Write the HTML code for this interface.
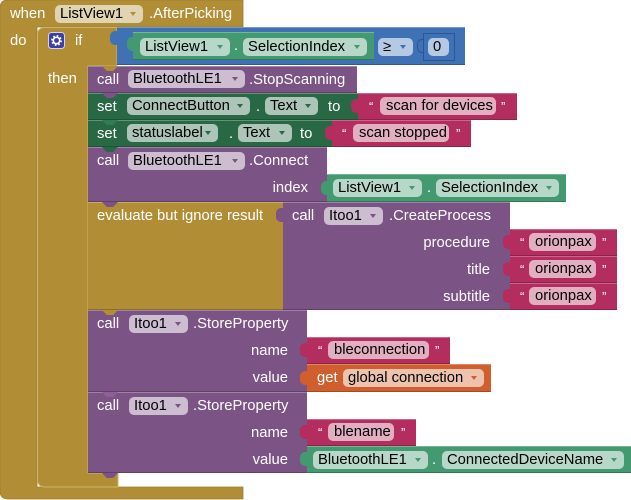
<!DOCTYPE html>
<html><head><meta charset="utf-8">
<style>
*{margin:0;padding:0;box-sizing:border-box}
body{width:631px;height:500px;background:#fff;position:relative;overflow:hidden;font-family:"Liberation Sans",Arial,sans-serif;font-size:14.8px}
.b{position:absolute;box-shadow:inset 0 1px 0 rgba(255,255,255,.28),inset 0 -1px 0 rgba(0,0,0,.22)}
.t{position:absolute;color:#fff;white-space:nowrap;line-height:18px;height:18px}
.r{text-align:right}
.d{position:absolute;height:18px;line-height:18px;border-radius:5px;background:rgba(255,255,255,.62);color:#000;padding-left:5px;white-space:nowrap}
.d i{position:absolute;right:7px;top:7px;width:0;height:0;border-left:3.5px solid transparent;border-right:3.5px solid transparent;border-top:4px solid}
.q{position:absolute;color:#fff;font-size:13px;line-height:27px;height:27px}
.tab{position:absolute;width:8px;height:14px;border-radius:5px 0 0 5px}
.n{position:absolute;width:16px;height:5px;clip-path:polygon(0 0,100% 0,70% 100%,30% 100%)}
</style></head><body>
<svg width="631" height="500" style="position:absolute;left:0;top:0">
<path d="M8,0 H243 V27 H37 V487 H243 V499 H8 Q0,499 0,491 V8 Q0,0 8,0 Z" fill="#B18E35" stroke="#9c7d2e" stroke-width="0.8"/>
<path d="M45,27.5 H117 V66 H88 V473 H118 V487 H45 Q37.5,487 37.5,479 V35 Q37.5,27.5 45,27.5 Z" fill="#B18E35" stroke="#CDB472" stroke-width="1"/>
</svg>

<!-- event header -->
<div class="t" style="left:10px;top:5px">when</div>
<div class="d" style="left:55px;top:5px;width:88px">ListView1<i style="color:#B18E35"></i></div>
<div class="t" style="left:149px;top:5px">.AfterPicking</div>
<div class="t" style="left:10px;top:32px">do</div>

<!-- if -->
<svg width="17" height="17" style="position:absolute;left:48px;top:32px">
<rect x="0.5" y="0.5" width="16" height="16" rx="3" fill="#3B3FA8" stroke="#d8d3e8" stroke-width="1"/>
<circle cx="8.5" cy="8.5" r="4.2" fill="none" stroke="#fff" stroke-width="2.4" stroke-dasharray="1.6 1.7"/>
<circle cx="8.5" cy="8.5" r="3.2" fill="none" stroke="#fff" stroke-width="1.6"/>
</svg>
<div class="t" style="left:75px;top:32px">if</div>
<div class="t" style="left:48px;top:70px">then</div>

<!-- compare block -->
<div class="tab" style="left:110px;top:31px;background:#3F71B5"></div>
<div class="b" style="left:117px;top:27px;width:348px;height:38px;background:#3F71B5"></div>
<div class="tab" style="left:127px;top:37px;background:#439970"></div>
<div class="b" style="left:133px;top:32px;width:241px;height:28px;background:#439970"></div>
<div class="d" style="left:140px;top:38px;width:90px">ListView1<i style="color:#439970"></i></div>
<div class="t" style="left:234px;top:37px">.</div>
<div class="d" style="left:243px;top:38px;width:124px">SelectionIndex<i style="color:#439970"></i></div>
<div class="d" style="left:378px;top:38px;width:35px">≥<i style="color:#3F71B5"></i></div>
<div class="tab" style="left:417px;top:39px;background:#3F71B5;border:1px solid #2d5592;border-right:none"></div>
<div style="position:absolute;left:423px;top:33px;width:32px;height:28px;background:#3F71B5;border:1px solid #2d5592"></div>
<div class="d" style="left:428px;top:38px;width:21px;padding-left:5px">0</div>

<!-- StopScanning -->
<div class="b" style="left:88px;top:66px;width:269px;height:27px;background:#7C5385"></div>
<div class="n" style="left:102px;top:66px;background:#B18E35"></div>
<div class="t" style="left:97px;top:70.5px">call</div>
<div class="d" style="left:128px;top:70px;width:117px">BluetoothLE1<i style="color:#7C5385"></i></div>
<div class="t" style="left:249px;top:70.5px">.StopScanning</div>

<!-- set ConnectButton -->
<div class="b" style="left:88px;top:93px;width:270px;height:27px;background:#296845"></div>
<div class="n" style="left:102px;top:93px;background:#7C5385"></div>
<div class="t" style="left:97px;top:97.5px">set</div>
<div class="d" style="left:127px;top:97px;width:123px">ConnectButton<i style="color:#296845"></i></div>
<div class="t" style="left:256px;top:97.5px">.</div>
<div class="d" style="left:265px;top:97px;width:53px">Text<i style="color:#296845"></i></div>
<div class="t" style="left:328px;top:97.5px">to</div>
<div class="tab" style="left:351px;top:99px;background:#B32D5E"></div>
<div class="b" style="left:358px;top:93px;width:159px;height:27px;background:#B32D5E"></div>
<div class="q" style="left:369px;top:93px">“</div>
<div class="d" style="left:380px;top:97px;width:116px;padding-left:6px">scan for devices</div>
<div class="q" style="left:501px;top:93px">”</div>

<!-- set statuslabel -->
<div class="b" style="left:88px;top:120px;width:244px;height:27px;background:#296845"></div>
<div class="n" style="left:102px;top:120px;background:#296845;filter:brightness(1.2)"></div>
<div class="t" style="left:97px;top:124.5px">set</div>
<div class="d" style="left:127px;top:124px;width:91px">statuslabel<i style="color:#296845"></i></div>
<div class="t" style="left:229px;top:124.5px">.</div>
<div class="d" style="left:238px;top:124px;width:54px">Text<i style="color:#296845"></i></div>
<div class="t" style="left:300px;top:124.5px">to</div>
<div class="tab" style="left:325px;top:126px;background:#B32D5E"></div>
<div class="b" style="left:332px;top:120px;width:139px;height:27px;background:#B32D5E"></div>
<div class="q" style="left:342px;top:120px">“</div>
<div class="d" style="left:353px;top:124px;width:96px;padding-left:6px">scan stopped</div>
<div class="q" style="left:456px;top:120px">”</div>

<!-- Connect -->
<div class="b" style="left:88px;top:147px;width:239px;height:55px;background:#7C5385"></div>
<div class="n" style="left:102px;top:147px;background:#296845"></div>
<div class="t" style="left:97px;top:152px">call</div>
<div class="d" style="left:128px;top:152px;width:117px">BluetoothLE1<i style="color:#7C5385"></i></div>
<div class="t" style="left:249px;top:152px">.Connect</div>
<div class="t r" style="left:200px;top:179px;width:108px">index</div>
<div class="tab" style="left:321px;top:181px;background:#439970"></div>
<div class="b" style="left:327px;top:174px;width:239px;height:28px;background:#439970"></div>
<div class="d" style="left:333px;top:179px;width:89px">ListView1<i style="color:#439970"></i></div>
<div class="t" style="left:427px;top:179px">.</div>
<div class="d" style="left:436px;top:179px;width:123px">SelectionIndex<i style="color:#439970"></i></div>

<!-- evaluate -->
<div class="b" style="left:88px;top:202px;width:195px;height:108px;background:#B18E35"></div>
<div class="n" style="left:102px;top:202px;background:#7C5385"></div>
<div class="t" style="left:97px;top:207px">evaluate but ignore result</div>
<div class="tab" style="left:276px;top:208px;background:#7C5385"></div>
<div class="b" style="left:283px;top:202px;width:227px;height:108px;background:#7C5385"></div>
<div class="t" style="left:292px;top:207px">call</div>
<div class="d" style="left:324px;top:207px;width:59px">Itoo1<i style="color:#7C5385"></i></div>
<div class="t" style="left:389px;top:207px">.CreateProcess</div>
<div class="t r" style="left:380px;top:234px;width:110px">procedure</div>
<div class="t r" style="left:380px;top:261px;width:110px">title</div>
<div class="t r" style="left:380px;top:288px;width:110px">subtitle</div>

<div class="tab" style="left:503px;top:235px;background:#B32D5E"></div>
<div class="b" style="left:510px;top:229px;width:107px;height:27px;background:#B32D5E"></div>
<div class="q" style="left:520px;top:229px">“</div>
<div class="d" style="left:529px;top:233px;width:67px;padding-left:6px">orionpax</div>
<div class="q" style="left:602px;top:229px">”</div>

<div class="tab" style="left:503px;top:262px;background:#B32D5E"></div>
<div class="b" style="left:510px;top:256px;width:107px;height:27px;background:#B32D5E"></div>
<div class="q" style="left:520px;top:256px">“</div>
<div class="d" style="left:529px;top:260px;width:67px;padding-left:6px">orionpax</div>
<div class="q" style="left:602px;top:256px">”</div>

<div class="tab" style="left:503px;top:289px;background:#B32D5E"></div>
<div class="b" style="left:510px;top:283px;width:107px;height:27px;background:#B32D5E"></div>
<div class="q" style="left:520px;top:283px">“</div>
<div class="d" style="left:529px;top:287px;width:67px;padding-left:6px">orionpax</div>
<div class="q" style="left:602px;top:283px">”</div>

<!-- StoreProperty 1 -->
<div class="b" style="left:88px;top:310px;width:219px;height:82px;background:#7C5385"></div>
<div class="n" style="left:102px;top:310px;background:#B18E35"></div>
<div class="t" style="left:97px;top:315px">call</div>
<div class="d" style="left:129px;top:315px;width:59px">Itoo1<i style="color:#7C5385"></i></div>
<div class="t" style="left:193px;top:315px">.StoreProperty</div>
<div class="t r" style="left:180px;top:342px;width:108px">name</div>
<div class="t r" style="left:180px;top:369px;width:108px">value</div>
<div class="tab" style="left:300px;top:343px;background:#B32D5E"></div>
<div class="b" style="left:307px;top:337px;width:143px;height:27px;background:#B32D5E"></div>
<div class="q" style="left:318px;top:337px">“</div>
<div class="d" style="left:328px;top:341px;width:101px;padding-left:6px">bleconnection</div>
<div class="q" style="left:435px;top:337px">”</div>
<div class="tab" style="left:300px;top:371px;background:#D05F2D"></div>
<div class="b" style="left:307px;top:364px;width:184px;height:28px;background:#D05F2D"></div>
<div class="t" style="left:317px;top:369px">get</div>
<div class="d" style="left:343px;top:369px;width:141px">global connection<i style="color:#D05F2D"></i></div>

<!-- StoreProperty 2 -->
<div class="b" style="left:88px;top:392px;width:219px;height:81px;background:#7C5385"></div>
<div class="n" style="left:102px;top:392px;background:#7C5385;filter:brightness(1.15)"></div>
<div class="t" style="left:97px;top:397px">call</div>
<div class="d" style="left:129px;top:397px;width:59px">Itoo1<i style="color:#7C5385"></i></div>
<div class="t" style="left:193px;top:397px">.StoreProperty</div>
<div class="t r" style="left:180px;top:424px;width:108px">name</div>
<div class="t r" style="left:180px;top:451px;width:108px">value</div>
<div class="tab" style="left:300px;top:425px;background:#B32D5E"></div>
<div class="b" style="left:307px;top:419px;width:109px;height:27px;background:#B32D5E"></div>
<div class="q" style="left:318px;top:419px">“</div>
<div class="d" style="left:328px;top:423px;width:66px;padding-left:6px">blename</div>
<div class="q" style="left:401px;top:419px">”</div>
<div class="tab" style="left:300px;top:452px;background:#439970"></div>
<div class="b" style="left:307px;top:446px;width:324px;height:27px;background:#439970"></div>
<div class="d" style="left:313px;top:450.5px;width:115px">BluetoothLE1<i style="color:#439970"></i></div>
<div class="t" style="left:432px;top:450.5px">.</div>
<div class="d" style="left:442px;top:450.5px;width:182px">ConnectedDeviceName<i style="color:#439970"></i></div>
<div class="n" style="left:102px;top:473px;background:#7C5385"></div>
</body></html>
